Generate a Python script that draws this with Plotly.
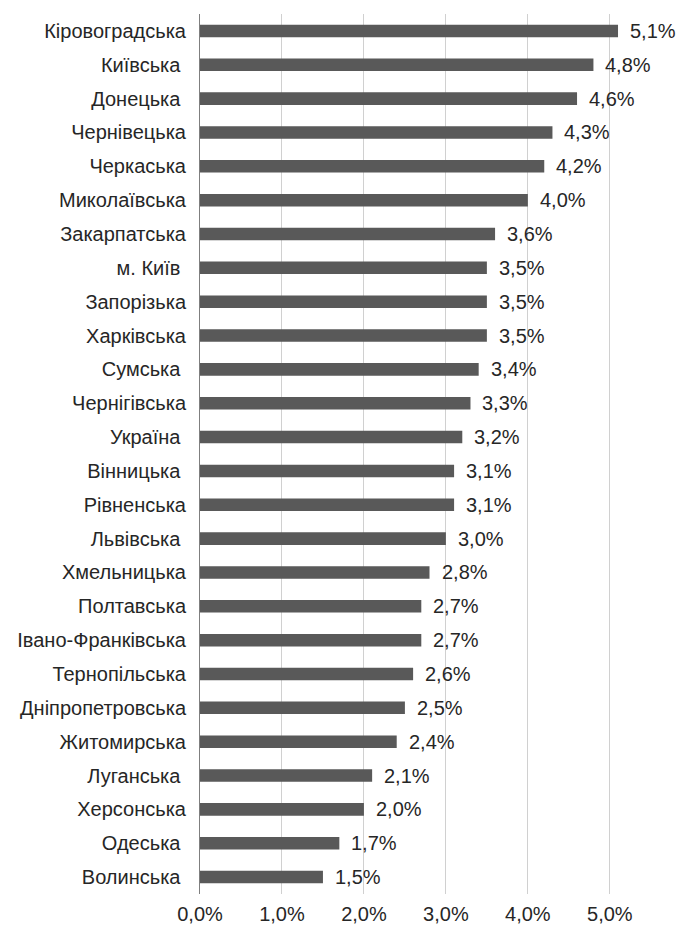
import plotly.graph_objects as go

# Regions, top to bottom, with their shares (%)
regions = [
    "Кіровоградська", "Київська\u00a0", "Донецька\u00a0", "Чернівецька", "Черкаська",
    "Миколаївська", "Закарпатська", "м. Київ\u00a0", "Запорізька", "Харківська",
    "Сумська\u00a0", "Чернігівська", "Україна\u00a0", "Вінницька\u00a0", "Рівненська",
    "Львівська\u00a0", "Хмельницька", "Полтавська", "Івано-Франківська", "Тернопільська",
    "Дніпропетровська", "Житомирська", "Луганська\u00a0", "Херсонська", "Одеська\u00a0",
    "Волинська\u00a0",
]
shares = [
    5.1, 4.8, 4.6, 4.3, 4.2,
    4.0, 3.6, 3.5, 3.5, 3.5,
    3.4, 3.3, 3.2, 3.1, 3.1,
    3.0, 2.8, 2.7, 2.7, 2.6,
    2.5, 2.4, 2.1, 2.0, 1.7,
    1.5,
]
x_ticks = [0, 1, 2, 3, 4, 5]
x_tick_labels = ["0,0%", "1,0%", "2,0%", "3,0%", "4,0%", "5,0%"]

FONT = "Liberation Sans, Arial, sans-serif"
TEXT_COLOR = "#262626"
FONT_SIZE = 20


def fmt(v):
    return f"{v:.1f}".replace(".", ",") + "%"


fig = go.Figure(
    go.Bar(
        x=shares,
        y=regions,
        orientation="h",
        marker=dict(color="#595959", line=dict(width=0)),
        hoverinfo="skip",
    )
)

# value labels to the right of each bar
for r, v in zip(regions, shares):
    fig.add_annotation(
        x=v, y=r, text=fmt(v), showarrow=False,
        xanchor="left", yanchor="middle", xshift=10,
        font=dict(family=FONT, size=FONT_SIZE, color=TEXT_COLOR),
    )

fig.update_layout(
    width=678, height=926,
    margin=dict(l=200, r=19, t=14, b=32),
    paper_bgcolor="white", plot_bgcolor="white",
    bargap=0.63,
    showlegend=False,
    font=dict(family=FONT, size=FONT_SIZE, color=TEXT_COLOR),
)
fig.update_xaxes(
    range=[0, 5.6],
    tickvals=x_ticks, ticktext=x_tick_labels,
    showgrid=True, gridcolor="#d0d0d0", gridwidth=1,
    zeroline=False, showline=False,
    ticks="outside", ticklen=2, tickcolor="rgba(0,0,0,0)",
    tickfont=dict(family=FONT, size=FONT_SIZE, color=TEXT_COLOR),
    automargin=False,
)
fig.update_yaxes(
    autorange="reversed",
    showgrid=False, zeroline=False,
    showline=True, linecolor="#7f7f7f", linewidth=1,
    ticks="", ticklabelstandoff=9,
    tickfont=dict(family=FONT, size=FONT_SIZE, color=TEXT_COLOR),
    automargin=False,
)

fig.write_html("out.html")
